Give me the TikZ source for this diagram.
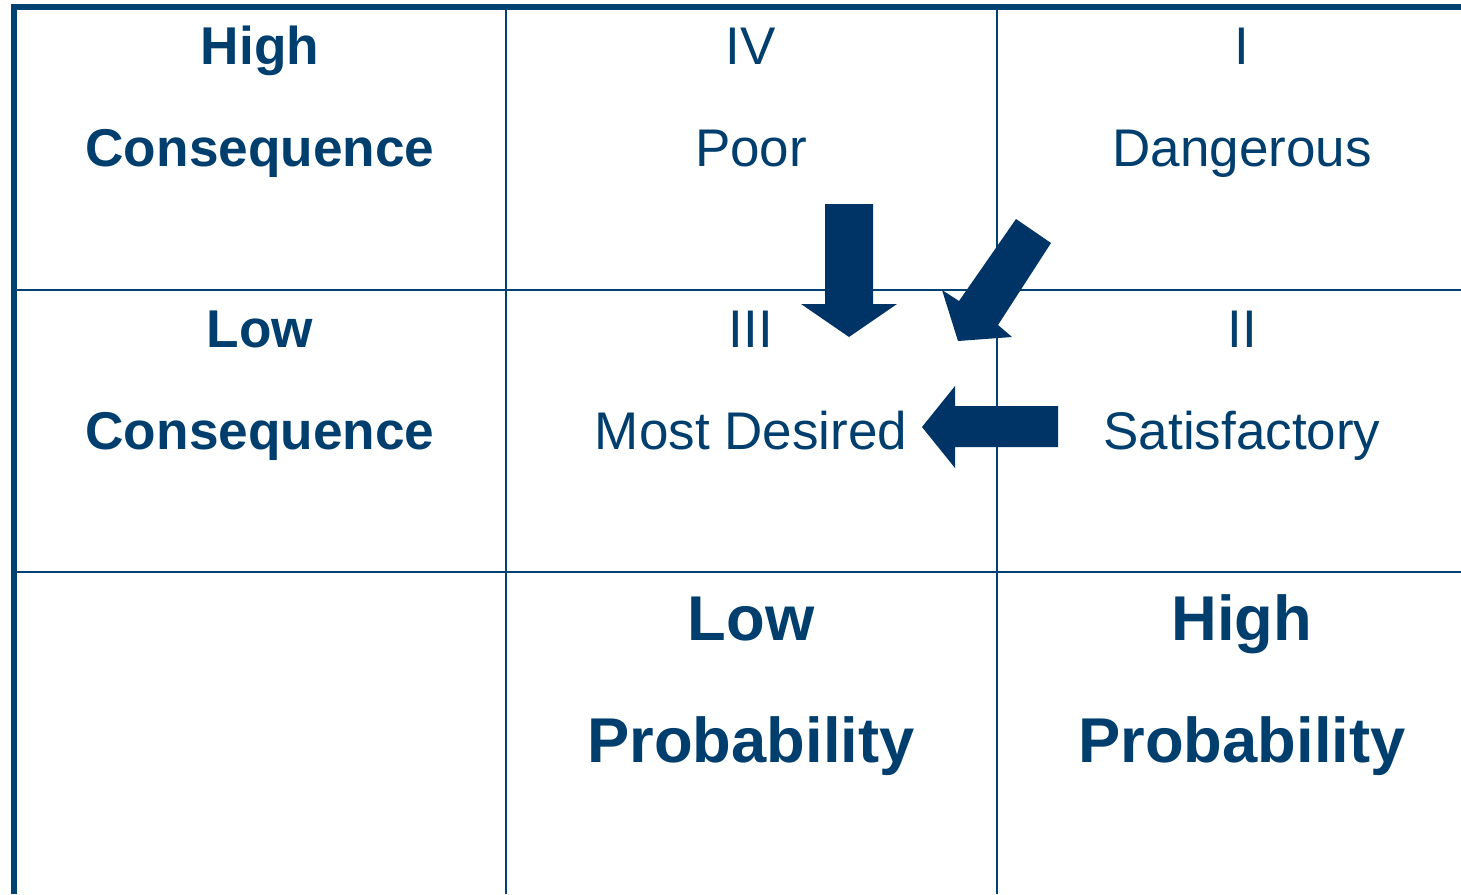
\documentclass[tikz,border=0pt]{standalone}
\usepackage{fontspec}
\setmainfont{Liberation Sans}
\definecolor{lineblue}{RGB}{0,66,114}
\definecolor{textblue}{RGB}{0,62,110}
\definecolor{arrowblue}{RGB}{0,51,102}
\tikzset{
  lbl/.style={anchor=base,inner sep=0pt,text=textblue,font=\fontsize{53}{60}\selectfont},
  hdr/.style={anchor=base,inner sep=0pt,text=textblue,font=\fontsize{53.2}{60}\selectfont\bfseries},
  bighdr/.style={anchor=base,inner sep=0pt,text=textblue,font=\fontsize{63.3}{70}\selectfont\bfseries},
  gridline/.style={draw=lineblue,line width=2.8pt},
  border/.style={draw=lineblue,line width=6pt},
  bigarrow/.style={fill=arrowblue,draw=none}
}
\begin{document}
\begin{tikzpicture}[x=1pt,y=-1pt]
\useasboundingbox (0,0) rectangle (1461,894);
% grid
\draw[gridline] (506,7) -- (506,894);
\draw[gridline] (997,7) -- (997,894);
\draw[gridline] (14,290) -- (1461,290);
\draw[gridline] (14,572) -- (1461,572);
\draw[border] (14,894) -- (14,7) -- (1461,7);
% arrows
\fill[bigarrow] (825,204) -- (873,204) -- (873,304) -- (897,304) -- (849,337) -- (801,304) -- (825,304) -- cycle;
\fill[bigarrow] (1016,219) -- (1051,243) -- (998,325) -- (1012,337) -- (958,341) -- (942,290) -- (959,301) -- cycle;
\fill[bigarrow] (1058,406) -- (1058,447) -- (955,447) -- (955,468) -- (922,427) -- (955,386) -- (955,406) -- cycle;
% row headers
\node[hdr] (hc1) at (260,64) {High};
\node[hdr] (hc2) at (260,166) {Consequence};
\node[hdr] (lc1) at (260,347) {Low};
\node[hdr] (lc2) at (260,449) {Consequence};
% cells
\node[lbl] (iv) at (751,64) {IV};
\node[lbl] (poor) at (751,166) {Poor};
\node[lbl] (i) at (1242,64) {I};
\node[lbl] (dang) at (1242,166) {Dangerous};
\node[lbl] (iii) at (751,347) {III};
\node[lbl] (most) at (751,449) {Most Desired};
\node[lbl] (ii) at (1242,347) {II};
\node[lbl] (sat) at (1242,449) {Satisfactory};
% column headers
\node[bighdr] (lp1) at (751,640) {Low};
\node[bighdr] (lp2) at (751,762) {Probability};
\node[bighdr] (hp1) at (1242,640) {High};
\node[bighdr] (hp2) at (1242,762) {Probability};
\end{tikzpicture}
\end{document}
